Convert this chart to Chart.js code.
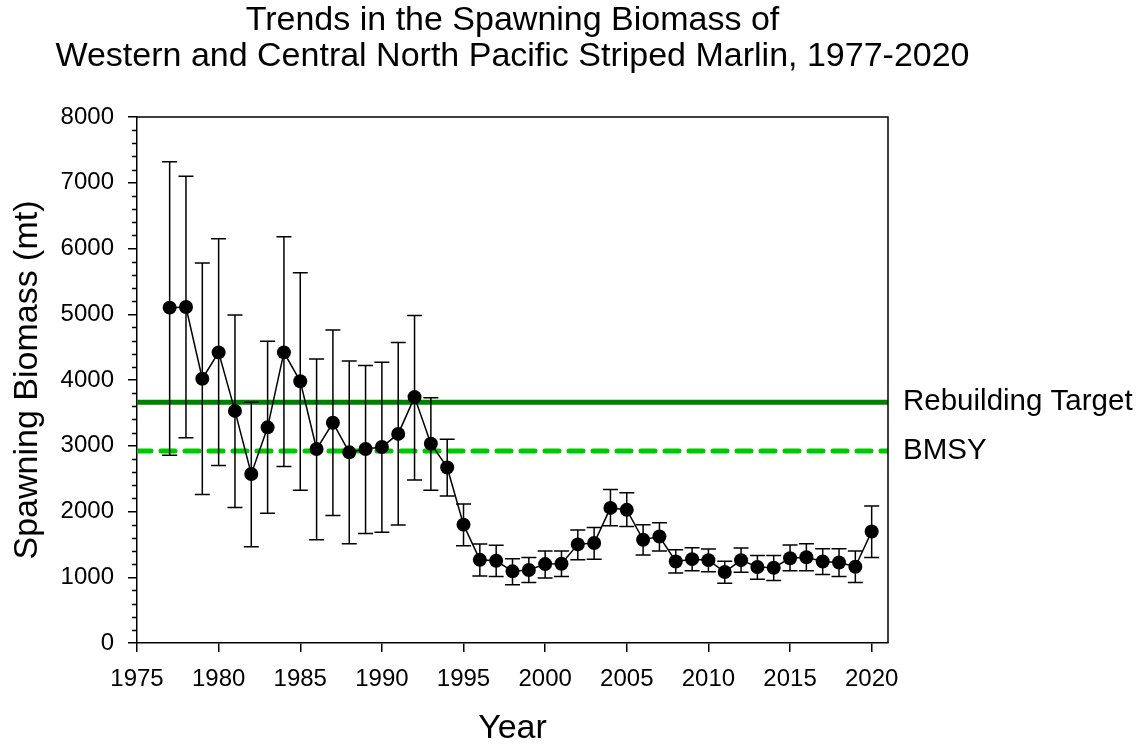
<!DOCTYPE html>
<html>
<head>
<meta charset="utf-8">
<script src="https://cdn.jsdelivr.net/npm/chart.js@4"></script>
<style>
  html, body { margin: 0; padding: 0; background: #fff; }
  #wrap { width: 1141px; height: 746px; }
</style>
</head>
<body>
<div id="wrap"><canvas id="myChart" width="1141" height="746"></canvas></div>
<script>
const titleLines = ['Trends in the Spawning Biomass of', 'Western and Central North Pacific Striped Marlin, 1977-2020'];
const years = [1977,1978,1979,1980,1981,1982,1983,1984,1985,1986,1987,1988,1989,1990,1991,1992,1993,1994,1995,
    1996,1997,1998,1999,2000,2001,2002,2003,2004,2005,2006,2007,2008,2009,2010,2011,2012,2013,2014,2015,2016,2017,2018,2019,2020];
const biomass = [5100,5110,4020,4420,3530,2570,3280,4420,3980,2950,3350,2900,2950,2980,3180,3740,3030,2670,1800,
    1265,1250,1090,1110,1200,1205,1500,1520,2055,2025,1570,1620,1240,1275,1260,1080,1260,1155,1145,1290,1305,1240,1225,1160,1695];
const upper = [7320,7100,5780,6150,4990,3660,4590,6180,5630,4320,4760,4290,4220,4270,4570,4980,3730,3100,2115,
    1505,1485,1280,1300,1400,1400,1720,1755,2335,2285,1800,1830,1420,1450,1430,1245,1445,1330,1330,1490,1510,1435,1435,1400,2085];
const lower = [2855,3120,2260,2700,2060,1465,1975,2685,2325,1570,1940,1510,1665,1685,1795,2480,2325,2235,1480,
    1020,1010,885,920,990,1010,1265,1275,1785,1770,1340,1400,1065,1100,1085,910,1075,970,950,1100,1100,1040,1010,920,1300];
const xTicks = [1975,1980,1985,1990,1995,2000,2005,2010,2015,2020];
const rebuildingTarget = 3660;
const bmsy = 2920;
const refLabels = ['Rebuilding Target', 'BMSY'];

const FONT = "'Liberation Sans', Arial, sans-serif";

// error bars, drawn just before the biomass series so dots sit on top
const errorBars = {
    id: 'errorBars',
    beforeDatasetDraw(chart, args) {
        if (args.index !== 0) return;
        const {ctx, scales: {x, y}} = chart;
        ctx.save();
        ctx.strokeStyle = '#000';
        ctx.lineWidth = 1.5;
        years.forEach((yr, i) => {
            const px = x.getPixelForValue(yr);
            const top = y.getPixelForValue(upper[i]);
            const bot = y.getPixelForValue(lower[i]);
            ctx.beginPath();
            ctx.moveTo(px, top); ctx.lineTo(px, bot);
            ctx.moveTo(px - 7.5, top); ctx.lineTo(px + 7.5, top);
            ctx.moveTo(px - 7.5, bot); ctx.lineTo(px + 7.5, bot);
            ctx.stroke();
        });
        ctx.restore();
    }
};

// frame, minor y ticks, title and the labels on the right
const decorations = {
    id: 'decorations',
    afterDraw(chart) {
        const {ctx, chartArea: a, scales: {y}} = chart;
        ctx.save();
        ctx.strokeStyle = '#000';
        ctx.lineWidth = 1.5;
        ctx.beginPath();
        ctx.moveTo(a.left, a.top); ctx.lineTo(a.right, a.top); ctx.lineTo(a.right, a.bottom);
        for (let v = 200; v < 8000; v += 200) {
            if (v % 1000 === 0) continue;
            const py = Math.round(y.getPixelForValue(v)) + 0.5;
            ctx.moveTo(a.left - 5, py); ctx.lineTo(a.left, py);
        }
        ctx.stroke();

        ctx.fillStyle = '#000';
        ctx.font = '34px ' + FONT;
        ctx.textAlign = 'center';
        ctx.textBaseline = 'middle';
        const cx = (a.left + a.right) / 2;
        ctx.fillText(titleLines[0], cx, 21);
        ctx.fillText(titleLines[1], cx, 57);

        ctx.font = '29.5px ' + FONT;
        ctx.textAlign = 'left';
        ctx.fillText(refLabels[0], a.right + 15, y.getPixelForValue(rebuildingTarget));
        ctx.fillText(refLabels[1], a.right + 15, y.getPixelForValue(bmsy));
        ctx.restore();
    }
};

const ctx = document.getElementById('myChart');
new Chart(ctx, {
    type: 'line',
    data: {
        datasets: [
            {
                label: 'Spawning biomass',
                data: years.map((yr, i) => ({x: yr, y: biomass[i]})),
                borderColor: '#000',
                borderWidth: 1.5,
                pointRadius: 7,
                pointBackgroundColor: '#000',
                pointBorderColor: '#000',
                pointBorderWidth: 0,
                tension: 0
            },
            {
                label: 'Rebuilding Target',
                data: [{x: 1975, y: rebuildingTarget}, {x: 2021, y: rebuildingTarget}],
                borderColor: '#008000',
                borderWidth: 5,
                borderCapStyle: 'round',
                pointRadius: 0
            },
            {
                label: 'BMSY',
                data: [{x: 1975, y: bmsy}, {x: 2021, y: bmsy}],
                borderColor: '#00c800',
                borderWidth: 5,
                borderDash: [14, 10],
                borderCapStyle: 'round',
                pointRadius: 0
            }
        ]
    },
    options: {
        responsive: false,
        animation: false,
        layout: {padding: {top: 117, right: 253, left: 0, bottom: 0}},
        plugins: {
            legend: {display: false},
            tooltip: {enabled: false},
            title: {display: false}
        },
        scales: {
            x: {
                type: 'linear',
                min: 1975,
                max: 2021,
                afterFit(scale) { scale.height = 103; },
                afterBuildTicks(scale) {
                    scale.ticks = xTicks.map(v => ({value: v}));
                },
                border: {display: true, color: '#000', width: 1.5},
                grid: {drawOnChartArea: false, drawTicks: true, tickLength: 9, color: '#000', lineWidth: 1.5},
                ticks: {
                    color: '#000',
                    font: {family: FONT, size: 24},
                    padding: 13,
                    maxRotation: 0,
                    callback: v => String(v)
                },
                title: {
                    display: true,
                    text: 'Year',
                    color: '#000',
                    font: {family: FONT, size: 34, lineHeight: 1},
                    padding: {top: 0, bottom: 0}
                }
            },
            y: {
                type: 'linear',
                min: 0,
                max: 8000,
                afterFit(scale) { scale.width = 137; },
                border: {display: true, color: '#000', width: 1.5},
                grid: {drawOnChartArea: false, drawTicks: true, tickLength: 9, color: '#000', lineWidth: 1.5},
                ticks: {
                    stepSize: 1000,
                    color: '#000',
                    font: {family: FONT, size: 24},
                    padding: 14,
                    callback: v => String(v)
                },
                title: {
                    display: true,
                    text: 'Spawning Biomass (mt)',
                    color: '#000',
                    font: {family: FONT, size: 34, lineHeight: 1},
                    padding: {top: 11, bottom: 0}
                }
            }
        }
    },
    plugins: [errorBars, decorations]
});
</script>
</body>
</html>
